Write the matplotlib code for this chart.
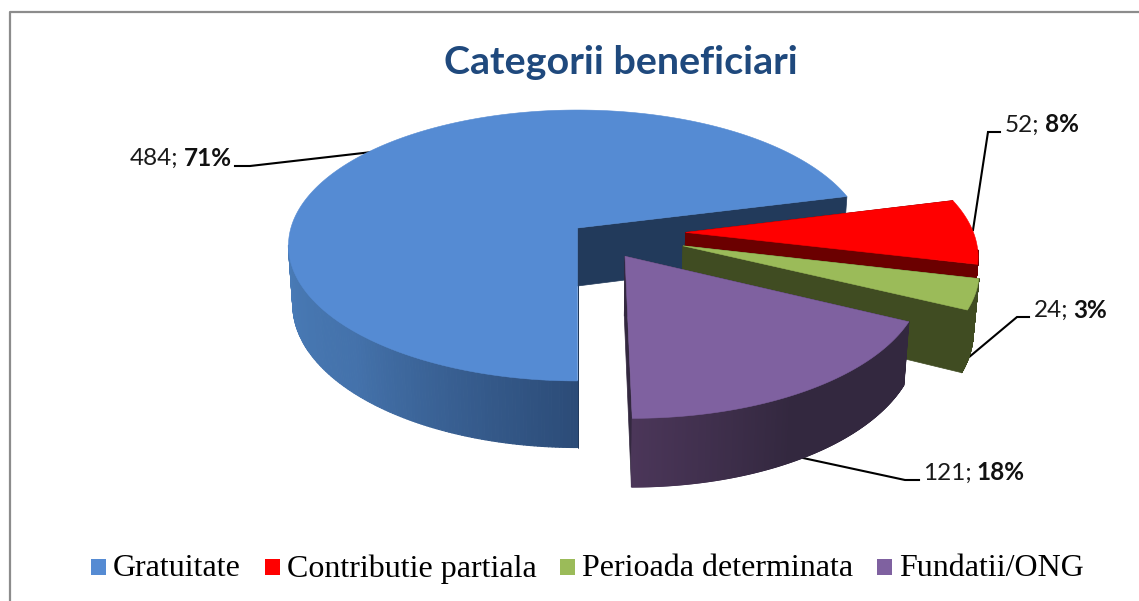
import numpy as np
import matplotlib
matplotlib.use("Agg")
import matplotlib.pyplot as plt
from matplotlib.collections import PolyCollection
from matplotlib.colors import LinearSegmentedColormap
from matplotlib.patches import Polygon, Rectangle

# ---- data ----
categories = ["Gratuitate", "Contributie partiala", "Perioada determinata", "Fundatii/ONG"]
values = [484, 52, 24, 121]
percent_labels = ["71%", "8%", "3%", "18%"]
title = "Categorii beneficiari"

# ---- style ----
top_colors = ["#558BD3", "#FF0000", "#9BBB59", "#7F61A0"]
cut_colors = ["#223A5B", "#6B0000", "#404C22", "#33283F"]
rim_stops = [
    [(0.0, "#2C4C78"), (0.5, "#4472AB"), (1.0, "#4A7DB9")],
    [(0.0, "#6B0000"), (1.0, "#6B0000")],
    [(0.0, "#404C22"), (1.0, "#404C22")],
    [(0.0, "#33283F"), (0.55, "#33283F"), (1.0, "#4B3659")],
]
# explosion of each slice: bearing in degrees, distance in radii
explode = [(0, 0.0), (95, 0.377), (110, 0.385), (142, 0.262)]

W, H = 1139, 601
CX, CY, RX, RY, K, DEPTH, CONVERGE = 577.5, 228, 286.6, 133.2, 0.129, 58, 0.985
START = 180  # degrees clockwise from the far side


def project(u, v, drop=False):
    """Perspective view of the pie plane, in pixel coordinates."""
    s = 1 + K * np.asarray(v, float)
    x = CX + RX * np.asarray(u, float) / s
    y = CY - RY * np.asarray(v, float) / s
    if drop:
        y = y + DEPTH / s
        x = CX + (x - CX) * CONVERGE
    return x, y


fig = plt.figure(figsize=(W / 100, H / 100), dpi=100)
ax = fig.add_axes([0, 0, 1, 1])
ax.set_xlim(0, W)
ax.set_ylim(H, 0)
ax.axis("off")

# frame
ax.plot([9.5, 9.5, W], [H, 12, 12], color="#8C8C8C", lw=1.6, solid_capstyle="butt")

fractions = np.array(values, float) / sum(values) * 360
starts = START + np.concatenate([[0], np.cumsum(fractions)[:-1]])

for i in range(len(values)):
    a0, a1 = starts[i], starts[i] + fractions[i]
    b, e = explode[i]
    ou, ov = e * np.sin(np.radians(b)), e * np.cos(np.radians(b))
    t = np.radians(np.linspace(a0, a1, 400))
    ru, rv = ou + np.sin(t), ov + np.cos(t)
    tx, ty = project(ru, rv)
    bx, by = project(ru, rv, drop=True)
    ax0, ay0 = project(ou, ov)
    ax1, ay1 = project(ou, ov, drop=True)

    # radial faces
    for j in (0, -1):
        ax.add_patch(Polygon([(ax0, ay0), (tx[j], ty[j]), (bx[j], by[j]), (ax1, ay1)],
                             closed=True, fc=cut_colors[i], ec=cut_colors[i], lw=0.5, zorder=2 + i))
    # outer rim, only where it faces the viewer
    cmap = LinearSegmentedColormap.from_list("rim", rim_stops[i])
    deg = np.degrees(t) % 360
    polys, cols = [], []
    for k in range(len(t) - 1):
        if np.cos(t[k]) > -K and np.cos(t[k + 1]) > -K:
            continue
        polys.append([(tx[k], ty[k]), (tx[k + 1], ty[k + 1]), (bx[k + 1], by[k + 1]), (bx[k], by[k])])
        if i == 0:
            f = abs(deg[k] - 180) / 90
        else:
            f = 1 - abs(180 - deg[k]) / 64
        cols.append(cmap(np.clip(f, 0, 1)))
    if polys:
        ax.add_collection(PolyCollection(polys, facecolors=cols, edgecolors=cols, linewidths=0.8, zorder=2.2 + i))
    # top
    ax.add_patch(Polygon(np.r_[[[ax0, ay0]], np.c_[tx, ty]], closed=True,
                         fc=top_colors[i], ec=top_colors[i], lw=0.4, zorder=2.5 + i))

# data labels and leaders
label_anchor = [(130, 158), (1005, 125), (1034, 310), (923, 473)]
leaders = [
    [(235, 166), (250, 166), (372, 152)],
    [(1000, 132), (988, 132), (973, 230)],
    [(1029, 317), (1017, 317), (968, 358)],
    [(919, 480), (905, 480), (803, 458)],
]
renderer = fig.canvas.get_renderer()
for v, p, (x, y), line in zip(values, percent_labels, label_anchor, leaders):
    first = ax.text(x, y, f"{v};", family="Lato", fontsize=17.5, color="#1A1A1A",
                    ha="left", va="center", zorder=20)
    ext = first.get_window_extent(renderer)
    ax.text(x + ext.width + 5, y, p, family="Lato", fontweight="bold", fontsize=17.5,
            color="#111111", ha="left", va="center", zorder=20)
    xs, ys = zip(*line)
    ax.plot(xs, ys, color="black", lw=1.5, zorder=1, solid_joinstyle="miter")

ax.text(621, 62, title, family="Lato", fontweight="bold", fontsize=28.4,
        color="#1F497D", ha="center", va="center", zorder=20)

# legend
legend_text_x = [113, 287, 582, 899]
for name, colour, x in zip(categories, top_colors, legend_text_x):
    ax.add_patch(Rectangle((x - 22, 559), 15, 16, fc=colour, ec="none"))
    ax.text(x, 569, name, family="Liberation Serif", fontsize=23, color="black",
            ha="left", va="center")

fig.savefig("out.png", dpi=100)
